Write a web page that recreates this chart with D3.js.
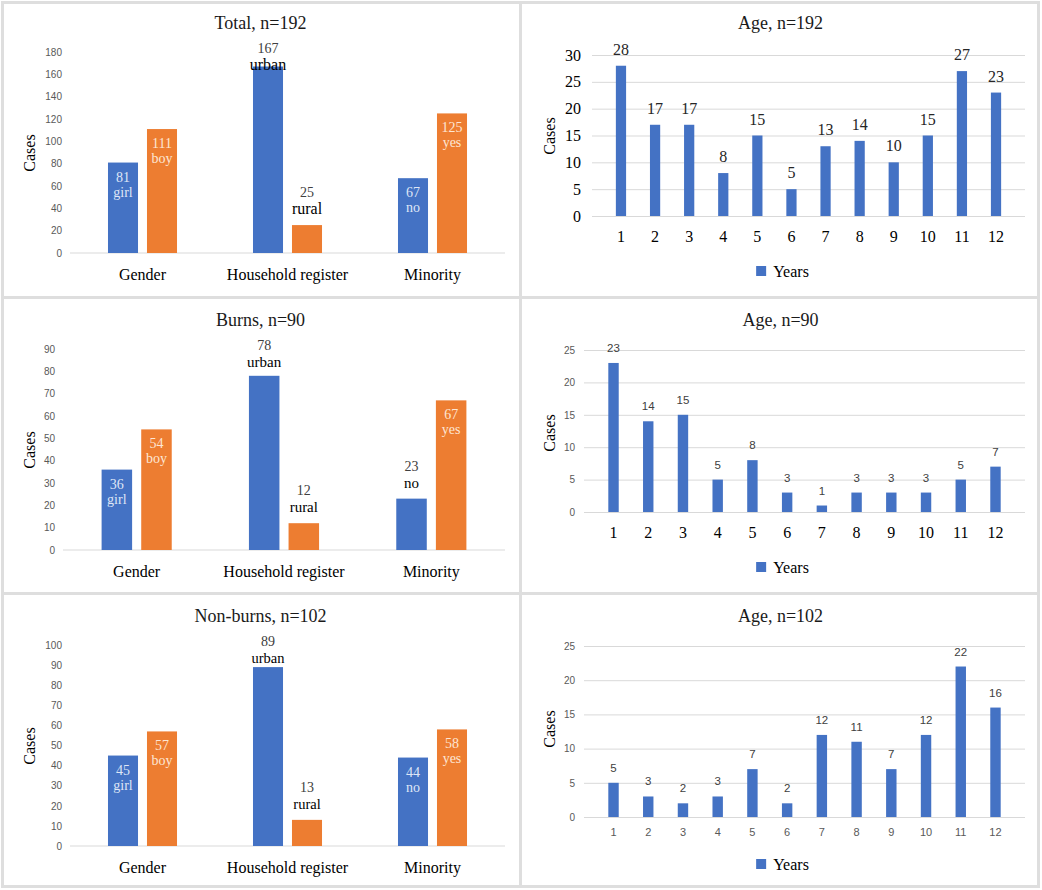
<!DOCTYPE html>
<html>
<head>
<meta charset="utf-8">
<script src="https://cdn.jsdelivr.net/npm/d3@7"></script>
<style>
  body { margin: 0; background: #fff; }
</style>
</head>
<body>
<div id="chart"></div>
<script>
// ---- data ----
const groups = ['Gender', 'Household register', 'Minority']
const subNames = [['girl', 'boy'], ['urban', 'rural'], ['no', 'yes']]
const totalCases = [[81, 111], [167, 25], [67, 125]]
const burnsCases = [[36, 54], [78, 12], [23, 67]]
const nonBurnsCases = [[45, 57], [89, 13], [44, 58]]
const totalTicks = [0, 20, 40, 60, 80, 100, 120, 140, 160, 180]
const burnsTicks = [0, 10, 20, 30, 40, 50, 60, 70, 80, 90]
const nonBurnsTicks = [0, 10, 20, 30, 40, 50, 60, 70, 80, 90, 100]

const years = ['1', '2', '3', '4', '5', '6', '7', '8', '9', '10', '11', '12']
const ageTotal = [28, 17, 17, 8, 15, 5, 13, 14, 10, 15, 27, 23]
const ageBurns = [23, 14, 15, 5, 8, 3, 1, 3, 3, 3, 5, 7]
const ageNonBurns = [5, 3, 2, 3, 7, 2, 12, 11, 7, 12, 22, 16]
const ageTotalTicks = [0, 5, 10, 15, 20, 25, 30]
const ageTicks = [0, 5, 10, 15, 20, 25]

// ---- look ----
const W = 1042, H = 890
const colX = [2, 522], rowY = [2, 299, 595]
const panelW = 517
const blue = '#4472c4', orange = '#ed7d31'
const serif = '"Liberation Serif", "Times New Roman", serif'
const sans = '"Liberation Sans", Arial, sans-serif'
const grid = '#d9d9d9'

const svg = d3.select('#chart').append('svg')
  .attr('width', W)
  .attr('height', H)
  .style('display', 'block')

// frame + cells
svg.append('rect').attr('x', 1).attr('y', 1).attr('width', 1039).attr('height', 887).attr('fill', '#dedede')
const cellTop = [4, 299, 595], cellBot = [296, 592, 885]
const cellLeft = [4, 522], cellRight = [519, 1037]
cellTop.forEach((t, r) => cellLeft.forEach((l, c) => {
  svg.append('rect').attr('x', l).attr('y', t)
    .attr('width', cellRight[c] - l).attr('height', cellBot[r] - t).attr('fill', '#fff')
}))

function panel (col, row) {
  return svg.append('g').attr('transform', `translate(${colX[col]}, ${rowY[row]})`)
}

function titleAndCases (g, title, casesY) {
  g.append('text')
    .attr('x', panelW / 2).attr('y', 27)
    .attr('text-anchor', 'middle')
    .style('font-family', serif).style('font-size', '18px').style('fill', '#1a1a1a')
    .text(title)
  g.append('text')
    .attr('transform', `translate(27, ${casesY}) rotate(-90)`)
    .attr('text-anchor', 'middle').attr('dy', '0.35em')
    .style('font-family', serif).style('font-size', '16px').style('fill', '#000')
    .text('Cases')
}

function drawGroups (g, conf) {
  const top = 50, bottom = 251, right = 503
  titleAndCases(g, conf.title, 151)

  const y = d3.scaleLinear().domain([0, d3.max(conf.ticks)]).range([bottom, top])
  const x0 = d3.scaleBand().domain(groups).range([conf.left, right]).paddingInner(0.524).paddingOuter(0.262)
  const x1 = d3.scaleBand().domain([0, 1]).range([0, x0.bandwidth()]).paddingInner(0.23)

  const yAxis = g.append('g')
    .attr('transform', `translate(${conf.left}, 0)`)
    .call(d3.axisLeft(y).tickValues(conf.ticks).tickSize(0).tickPadding(8))
  yAxis.select('.domain').remove()
  yAxis.selectAll('text').style('font-family', sans).style('font-size', '10px').style('fill', '#595959')

  g.append('line')
    .attr('x1', conf.left).attr('x2', right)
    .attr('y1', y(0)).attr('y2', y(0))
    .style('stroke', grid).style('stroke-width', 1)

  g.append('g').selectAll('text').data(groups).join('text')
    .attr('x', d => x0(d) + x0.bandwidth() / 2).attr('y', 278)
    .attr('text-anchor', 'middle')
    .style('font-family', serif).style('font-size', '16px').style('fill', '#000')
    .text(d => d)

  const bars = []
  groups.forEach((grp, i) => {
    conf.values[i].forEach((v, j) => {
      bars.push({ grp, j, v, name: subNames[i][j], inside: conf.inside[i][j] })
    })
  })

  const bg = g.append('g').selectAll('g').data(bars).join('g')
    .attr('transform', d => `translate(${x0(d.grp) + x1(d.j)}, 0)`)
  bg.append('rect')
    .attr('x', 0).attr('width', x1.bandwidth())
    .attr('y', d => y(d.v)).attr('height', d => y(0) - y(d.v))
    .style('fill', d => d.j === 0 ? blue : orange)

  const cx = x1.bandwidth() / 2
  const valueY = d => d.inside ? y(d.v) + 19 : Math.max(y(d.v) - 28, top + 1)
  bg.append('text')
    .attr('x', cx).attr('y', valueY)
    .attr('text-anchor', 'middle')
    .style('font-family', serif).style('font-size', '14px')
    .style('fill', d => d.inside ? (d.j === 0 ? '#dfe6f6' : '#fde6d4') : '#404040')
    .text(d => d.v)
  bg.append('text')
    .attr('x', cx).attr('y', d => d.inside ? y(d.v) + 34 : valueY(d) + 17)
    .attr('text-anchor', 'middle')
    .style('font-family', serif)
    .style('font-size', d => d.inside ? '14px' : conf.outNameSize)
    .style('fill', d => d.inside ? (d.j === 0 ? '#dfe6f6' : '#fde6d4') : '#000')
    .text(d => d.name)
}

function drawAges (g, conf) {
  const right = 503
  titleAndCases(g, conf.title, 134)

  const y = d3.scaleLinear().domain([0, d3.max(conf.ticks)]).range([conf.bottom, conf.top])
  const x = d3.scaleBand().domain(years).range([conf.left, right]).padding(0.7)

  const yAxis = g.append('g')
    .attr('transform', `translate(${conf.left}, 0)`)
    .call(d3.axisLeft(y).tickValues(conf.ticks).tickSize(-(right - conf.left)).tickPadding(conf.tickPad))
  yAxis.select('.domain').remove()
  yAxis.selectAll('line').style('stroke', grid)
  yAxis.selectAll('text').style('font-family', conf.tickFont.family)
    .style('font-size', conf.tickFont.size).style('fill', conf.tickFont.color)

  g.append('g').selectAll('rect').data(conf.values).join('rect')
    .attr('x', (d, i) => x(years[i]))
    .attr('width', x.bandwidth())
    .attr('y', d => y(d)).attr('height', d => y(0) - y(d))
    .style('fill', blue)

  g.append('g').selectAll('text').data(conf.values).join('text')
    .attr('x', (d, i) => x(years[i]) + x.bandwidth() / 2)
    .attr('y', d => y(d) - 11)
    .attr('text-anchor', 'middle')
    .style('font-family', conf.labelFont.family).style('font-size', conf.labelFont.size)
    .style('fill', conf.labelFont.color)
    .text(d => d)

  g.append('g').selectAll('text').data(years).join('text')
    .attr('x', d => x(d) + x.bandwidth() / 2).attr('y', conf.xLabelY)
    .attr('text-anchor', 'middle')
    .style('font-family', conf.xFont.family).style('font-size', conf.xFont.size)
    .style('fill', conf.xFont.color)
    .text(d => d)

  // legend
  const lg = g.append('g')
  lg.append('rect').attr('x', 0).attr('y', conf.legendY - 11).attr('width', 10).attr('height', 10).style('fill', blue)
  const lt = lg.append('text').attr('x', 17).attr('y', conf.legendY)
    .style('font-family', serif).style('font-size', '16px').style('fill', '#000')
    .text('Years')
  const lw = 17 + lt.node().getComputedTextLength()
  lg.attr('transform', `translate(${panelW / 2 - lw / 2 + 2}, 0)`)
}

const serifBig = { family: serif, size: '16px', color: '#000' }
const serifLabel = { family: serif, size: '16px', color: '#262626' }
const sansTick = { family: sans, size: '10px', color: '#595959' }
const sansX = { family: sans, size: '11px', color: '#595959' }
const sansLabel = { family: sans, size: '11.5px', color: '#404040' }

drawGroups(panel(0, 0), {
  title: 'Total, n=192', values: totalCases, ticks: totalTicks, left: 68,
  inside: [[true, true], [false, false], [true, true]], outNameSize: '16px'
})
drawGroups(panel(0, 1), {
  title: 'Burns, n=90', values: burnsCases, ticks: burnsTicks, left: 61,
  inside: [[true, true], [false, false], [false, true]], outNameSize: '15px'
})
drawGroups(panel(0, 2), {
  title: 'Non-burns, n=102', values: nonBurnsCases, ticks: nonBurnsTicks, left: 68,
  inside: [[true, true], [false, false], [true, true]], outNameSize: '14.5px'
})

drawAges(panel(1, 0), {
  title: 'Age, n=192', values: ageTotal, ticks: ageTotalTicks,
  left: 70, top: 53, bottom: 214, tickPad: 11, xLabelY: 240, legendY: 275,
  tickFont: serifBig, xFont: serifBig, labelFont: serifLabel
})
drawAges(panel(1, 1), {
  title: 'Age, n=90', values: ageBurns, ticks: ageTicks,
  left: 62, top: 51, bottom: 213, tickPad: 9, xLabelY: 239, legendY: 274,
  tickFont: sansTick, xFont: serifBig, labelFont: sansLabel
})
drawAges(panel(1, 2), {
  title: 'Age, n=102', values: ageNonBurns, ticks: ageTicks,
  left: 62, top: 51, bottom: 222, tickPad: 9, xLabelY: 241, legendY: 275,
  tickFont: sansTick, xFont: sansX, labelFont: sansLabel
})
</script>
</body>
</html>
